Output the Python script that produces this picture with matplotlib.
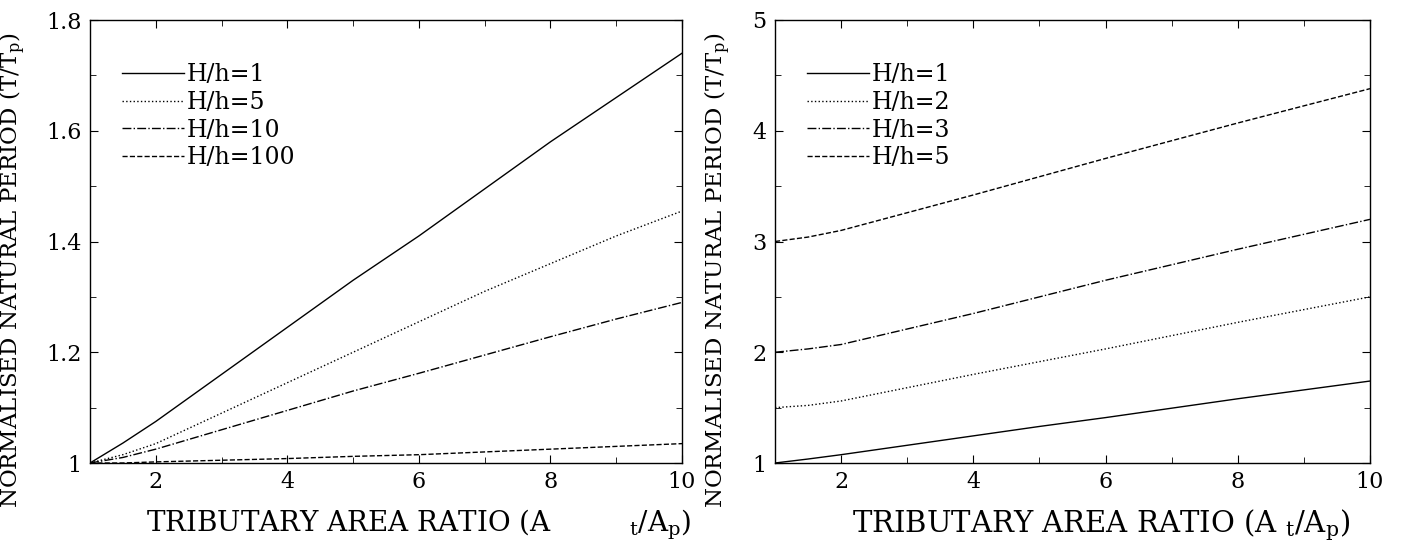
import numpy as np
import matplotlib.pyplot as plt

plt.rcParams['font.family'] = ['DejaVu Serif']
plt.rcParams['mathtext.fontset'] = 'dejavuserif'

# tributary area ratio At/Ap
ratio = [1, 1.5, 2, 3, 4, 5, 6, 7, 8, 9, 10]

# left panel: normalised period for several H/h
left_labels = ['H/h=1', 'H/h=5', 'H/h=10', 'H/h=100']
left_h1 = [1.0, 1.036, 1.075, 1.16, 1.245, 1.33, 1.41, 1.495, 1.58, 1.66, 1.74]
left_h5 = [1.0, 1.015, 1.035, 1.09, 1.145, 1.2, 1.255, 1.31, 1.36, 1.41, 1.455]
left_h10 = [1.0, 1.01, 1.025, 1.06, 1.095, 1.13, 1.162, 1.195, 1.228, 1.26, 1.29]
left_h100 = [1.0, 1.0, 1.002, 1.005, 1.008, 1.012, 1.015, 1.02, 1.025, 1.03, 1.035]

# right panel
right_labels = ['H/h=1', 'H/h=2', 'H/h=3', 'H/h=5']
right_h1 = left_h1
right_h2 = [1.5, 1.52, 1.56, 1.68, 1.8, 1.915, 2.03, 2.15, 2.27, 2.385, 2.5]
right_h3 = [2.0, 2.03, 2.07, 2.21, 2.35, 2.5, 2.65, 2.79, 2.93, 3.065, 3.2]
right_h5 = [3.0, 3.04, 3.1, 3.26, 3.42, 3.585, 3.75, 3.91, 4.07, 4.225, 4.38]

styles = ['-', ':', '-.', '--']

fig = plt.figure(figsize=(14.03, 5.45), dpi=100)
ax1 = fig.add_axes([90 / 1403, 82 / 545, 592 / 1403, 443 / 545])
ax2 = fig.add_axes([775 / 1403, 82 / 545, 595 / 1403, 443 / 545])

for ys, lab, ls in zip([left_h1, left_h5, left_h10, left_h100], left_labels, styles):
    ax1.plot(ratio, ys, ls, color='black', lw=1.0, label=lab)
for ys, lab, ls in zip([right_h1, right_h2, right_h3, right_h5], right_labels, styles):
    ax2.plot(ratio, ys, ls, color='black', lw=1.0, label=lab)

ax1.set_ylim(1, 1.8)
ax1.set_yticks([1, 1.2, 1.4, 1.6, 1.8])
ax1.set_yticklabels(['1', '1.2', '1.4', '1.6', '1.8'])
ax1.set_yticks(np.arange(1, 1.81, 0.1), minor=True)
ax2.set_ylim(1, 5)
ax2.set_yticks([1, 2, 3, 4, 5])
ax2.set_yticks(np.arange(1, 5.01, 0.5), minor=True)

for ax in (ax1, ax2):
    ax.set_xlim(1, 10)
    ax.set_xticks([2, 4, 6, 8, 10])
    ax.set_xticks(range(1, 11), minor=True)
    ax.tick_params(which='both', direction='in', top=True, right=True, labelsize=16, pad=6)
    ax.tick_params(which='major', length=6)
    ax.tick_params(which='minor', length=4)
    for s in ax.spines.values():
        s.set_linewidth(1.0)
    ax.set_ylabel('NORMALISED NATURAL PERIOD (T/T$_\\mathregular{p}$)', fontsize=16.5)
    ax.legend(loc='upper left', frameon=False, fontsize=17, handlelength=2.6,
              handletextpad=0.15, labelspacing=0.2, borderaxespad=1.0, borderpad=0.36,
              bbox_to_anchor=(0.0, 0.975))

ax1.yaxis.set_label_coords(-0.105, 0.435)
ax2.yaxis.set_label_coords(-0.071, 0.435)

ax1.set_xlabel('TRIBUTARY AREA RATIO (A         $_\\mathregular{t}$/A$_\\mathregular{p}$)', fontsize=20)
ax2.set_xlabel('TRIBUTARY AREA RATIO (A $_\\mathregular{t}$/A$_\\mathregular{p}$)', fontsize=21)
ax1.xaxis.set_label_coords(0.555, -0.1)
ax2.xaxis.set_label_coords(0.548, -0.1)

fig.savefig('out.png', dpi=100)
